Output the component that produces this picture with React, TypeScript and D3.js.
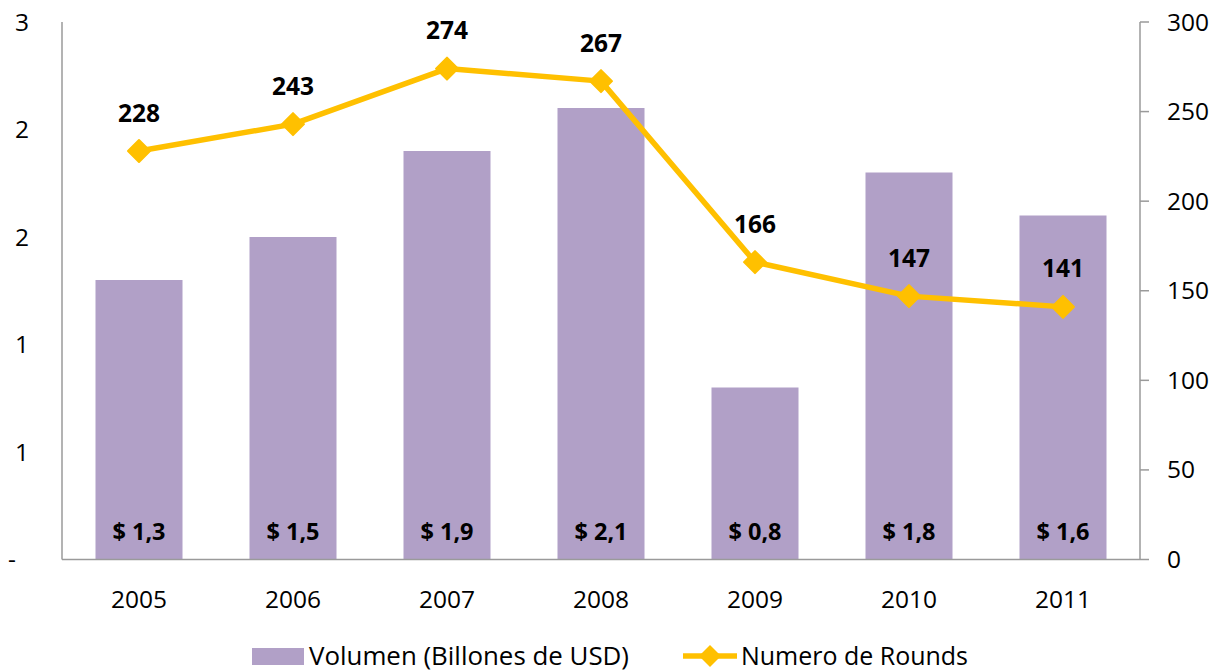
import React from "react";
import * as d3 from "d3";

const years = ["2005", "2006", "2007", "2008", "2009", "2010", "2011"];
const volumen = [1.3, 1.5, 1.9, 2.1, 0.8, 1.8, 1.6];
const rounds = [228, 243, 274, 267, 166, 147, 141];
const leftTicks = [0, 0.5, 1, 1.5, 2, 2.5];
const rightTicks = [0, 50, 100, 150, 200, 250, 300];

const W = 1222;
const H = 671;
const left = 62;
const right = 1140;
const top = 22;
const bottom = 559.5;
const FONT = "'Open Sans', Calibri, sans-serif";
const BAR = "#B1A0C7";
const LINE = "#FFC000";
const AXIS = "#9a9a9a";

export default function App() {
  const x = d3.scaleBand<string>().domain(years).range([left, right]).paddingInner(0.435).paddingOuter(0.2175);
  const xc = (y: string) => (x(y) as number) + x.bandwidth() / 2;
  const yL = d3.scaleLinear().domain([0, 2.5]).range([bottom, top]);
  const yR = d3.scaleLinear().domain([0, 300]).range([bottom, top]);
  const line = d3.line<number>().x((_, i) => xc(years[i])).y((d) => yR(d));
  const fmtL = (v: number) => (v === 0 ? "-" : String(Math.round(v)));
  const diamond = (cx: number, cy: number, r: number) =>
    `M${cx},${cy - r}L${cx + r},${cy}L${cx},${cy + r}L${cx - r},${cy}Z`;

  return (
    <svg width={W} height={H} style={{ position: "absolute", left: 0, top: 0 }} fontFamily={FONT}>
      <rect width={W} height={H} fill="#fff" />
      {years.map((y, i) => (
        <rect key={y} x={x(y)} y={yL(volumen[i])} width={x.bandwidth()} height={bottom - yL(volumen[i])} fill={BAR} />
      ))}
      {/* axes */}
      <line x1={left} x2={left} y1={top} y2={bottom} stroke={AXIS} strokeWidth={1.5} />
      <line x1={left} x2={right} y1={bottom} y2={bottom} stroke={AXIS} strokeWidth={1.5} />
      <line x1={right} x2={right} y1={top} y2={bottom} stroke={AXIS} strokeWidth={1.5} />
      {rightTicks.map((t) => (
        <g key={t}>
          <line x1={right} x2={right + 9} y1={yR(t)} y2={yR(t)} stroke={AXIS} strokeWidth={1.5} />
          <text x={1167} y={yR(t)} dy="0.35em" fontSize={24.5} fill="#000">{t}</text>
        </g>
      ))}
      {leftTicks.map((t) => (
        <text key={t} x={t === 0 ? 16 : 29} y={yL(t)} dy="0.35em" fontSize={24.5} textAnchor="end" fill="#000">
          {fmtL(t)}
        </text>
      ))}
      {years.map((y) => (
        <text key={y} x={xc(y)} y={599} dy="0.35em" fontSize={24.5} textAnchor="middle" fill="#000">{y}</text>
      ))}
      {/* bar labels */}
      {years.map((y, i) => (
        <text key={y} x={xc(y)} y={532} dy="0.35em" fontSize={23.5} fontWeight="bold" textAnchor="middle" fill="#000">
          {"$ " + volumen[i].toFixed(1).replace(".", ",")}
        </text>
      ))}
      {/* line */}
      <path d={line(rounds) || ""} fill="none" stroke={LINE} strokeWidth={5.5} strokeLinejoin="round" />
      {rounds.map((r, i) => (
        <path key={i} d={diamond(xc(years[i]), yR(r), 11)} fill={LINE} stroke={LINE} strokeWidth={2} strokeLinejoin="round" />
      ))}
      {rounds.map((r, i) => (
        <text key={i} x={xc(years[i])} y={yR(r) - 38} dy="0.35em" fontSize={24.5} fontWeight="bold" textAnchor="middle" fill="#000">
          {r}
        </text>
      ))}
      {/* legend */}
      <rect x={252} y={648} width={52} height={17} fill={BAR} />
      <text x={309} y={656} dy="0.35em" fontSize={25.5} fill="#000" textLength={320} lengthAdjust="spacingAndGlyphs">Volumen (Billones de USD)</text>
      <line x1={683} x2={737} y1={656} y2={656} stroke={LINE} strokeWidth={5.5} />
      <path d={diamond(710, 656, 11)} fill={LINE} />
      <text x={741} y={656} dy="0.35em" fontSize={25.5} fill="#000" textLength={227} lengthAdjust="spacingAndGlyphs">Numero de Rounds</text>
    </svg>
  );
}
